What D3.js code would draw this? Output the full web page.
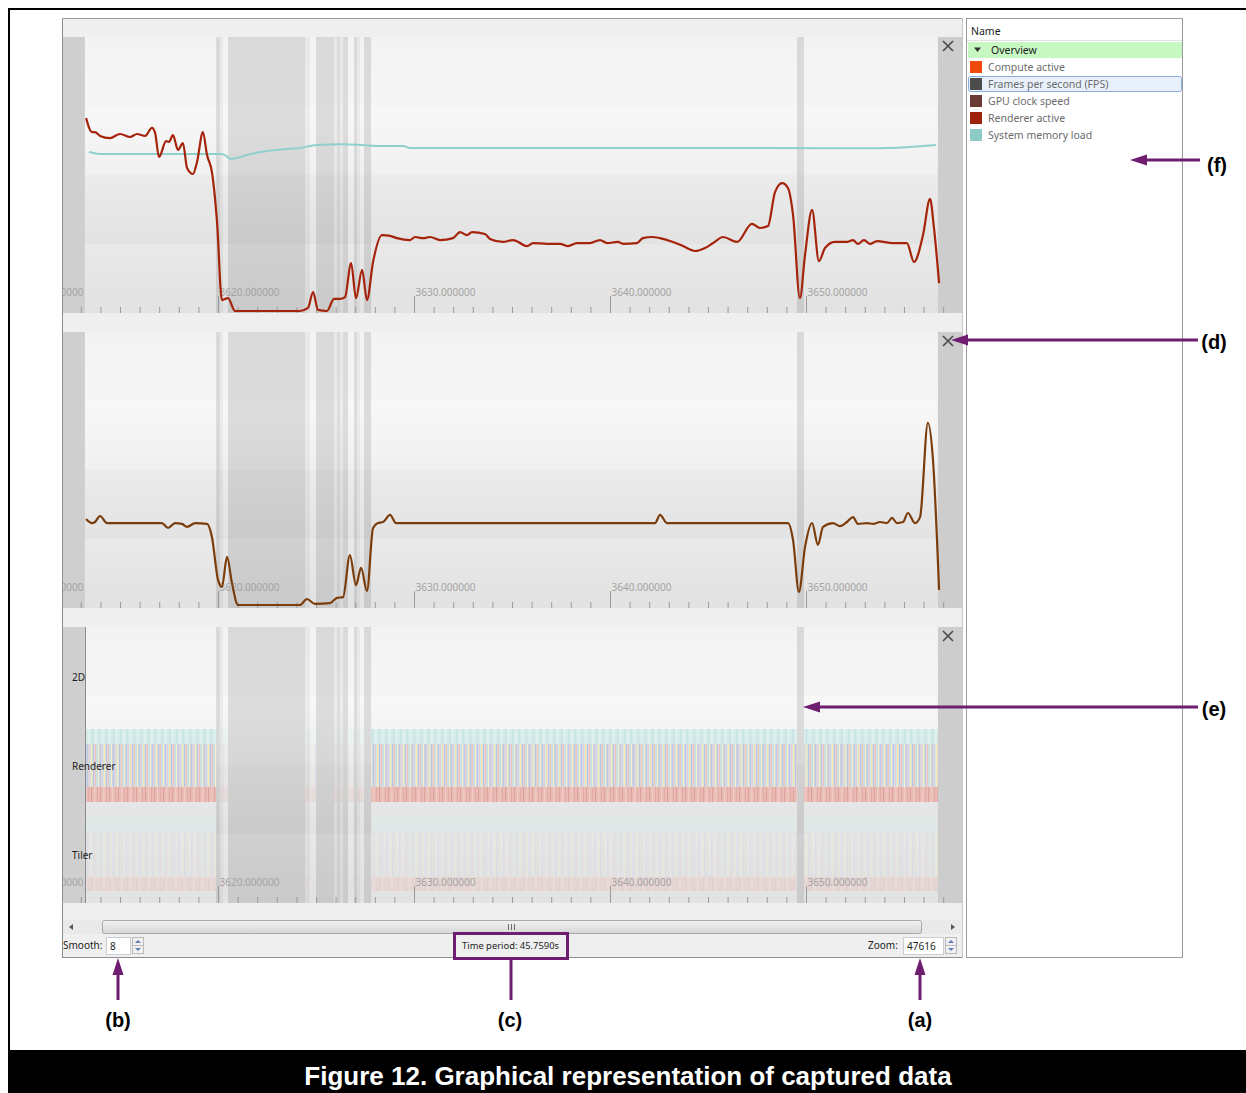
<!DOCTYPE html>
<html>
<head>
<meta charset="utf-8">
<script src="https://cdn.jsdelivr.net/npm/d3@7"></script>
<style>
  html, body { margin: 0; padding: 0; background: #fff; }
  svg { display: block; font-family: "Noto Sans", "Open Sans", sans-serif; }
</style>
</head>
<body>
<svg id="fig" width="1246" height="1093"></svg>
<script>
// ---- captured counters: [time (s), value (%)] ----
const rendererActive = [[3613.27,70.4],[3613.57,65.3],[3613.72,65.3],[3613.98,63.9],[3614.49,63.1],[3615.00,64.6],[3615.51,63.5],[3615.87,64.6],[3616.28,63.9],[3616.63,66.8],[3616.79,65.0],[3616.99,56.2],[3617.35,62.0],[3617.50,61.7],[3617.70,64.2],[3617.96,58.8],[3618.21,61.3],[3618.42,52.2],[3618.72,50.0],[3618.93,54.4],[3619.23,65.3],[3619.44,56.9],[3619.69,50.7],[3619.95,32.5],[3620.20,4.0],[3620.51,4.7],[3620.87,0],[3624.18,0],[3624.59,1.1],[3624.85,6.9],[3625.10,0.4],[3625.56,0],[3625.92,4.4],[3626.22,4.4],[3626.48,5.1],[3626.79,17.5],[3627.04,4.7],[3627.35,15.0],[3627.60,4.0],[3627.91,17.9],[3628.37,27.7],[3628.78,27.4],[3629.13,26.6],[3629.80,25.9],[3630.05,27.0],[3630.46,26.6],[3630.82,27.0],[3631.33,25.9],[3631.99,26.6],[3632.35,28.8],[3632.70,27.7],[3632.96,28.8],[3633.62,28.1],[3633.88,26.3],[3634.54,25.2],[3635.05,25.9],[3635.77,23.7],[3636.07,24.8],[3636.79,24.5],[3637.45,24.5],[3637.86,23.7],[3638.32,24.8],[3638.98,24.8],[3639.49,25.9],[3639.85,24.8],[3640.41,25.2],[3640.66,24.5],[3641.38,24.8],[3641.68,26.6],[3642.14,27.0],[3642.55,26.6],[3643.21,25.2],[3643.72,23.7],[3644.34,21.9],[3644.85,23.0],[3645.26,24.8],[3645.77,27.0],[3646.48,25.2],[3647.24,31.8],[3647.65,30.3],[3648.06,31.0],[3648.42,43.4],[3648.78,46.7],[3649.08,44.9],[3649.34,35.0],[3649.69,4.7],[3649.95,20.4],[3650.31,36.9],[3650.66,18.2],[3650.97,23.0],[3651.48,25.2],[3652.09,25.2],[3652.40,25.9],[3652.65,24.5],[3652.96,25.9],[3653.27,24.5],[3653.62,25.5],[3654.44,24.8],[3655.15,24.8],[3655.51,17.9],[3655.97,27.7],[3656.33,40.9],[3656.53,30.3],[3656.79,10.2]];

const systemMemoryLoad = [[3613.42,58.0],[3613.98,57.3],[3620.10,57.3],[3620.36,56.9],[3620.66,55.5],[3621.48,56.9],[3622.14,58.0],[3623.01,58.8],[3624.18,59.5],[3625.05,60.6],[3626.38,60.9],[3628.27,60.2],[3629.44,60.2],[3629.80,59.5],[3642.55,59.5],[3653.78,59.4],[3655.97,60.2],[3656.63,60.6]];

const gpuClockSpeed = [[3613.27,31.5],[3613.57,30.0],[3613.72,30.4],[3613.98,32.6],[3614.34,30.0],[3615.36,30.0],[3616.43,30.0],[3617.14,30.0],[3617.45,28.2],[3617.81,30.0],[3618.16,29.7],[3618.42,28.6],[3618.83,30.0],[3619.44,29.7],[3619.69,24.9],[3620.00,9.2],[3620.20,6.6],[3620.46,17.6],[3620.71,8.1],[3621.02,0],[3624.18,0],[3624.54,2.2],[3624.95,0.4],[3625.71,0.7],[3626.07,2.6],[3626.38,2.9],[3626.73,18.3],[3627.04,7.3],[3627.30,13.6],[3627.60,5.1],[3627.91,28.2],[3628.16,30.0],[3628.42,30.4],[3628.78,33.0],[3629.08,30.0],[3631.84,30.0],[3635.41,30.0],[3639.49,30.0],[3642.30,30.0],[3642.55,33.0],[3642.91,30.0],[3646.12,30.0],[3649.08,30.0],[3649.34,23.8],[3649.64,4.8],[3649.95,21.2],[3650.31,30.0],[3650.61,22.0],[3650.87,28.6],[3651.38,30.0],[3651.73,28.9],[3652.09,30.4],[3652.40,32.2],[3652.65,29.7],[3653.11,30.0],[3653.42,29.7],[3653.78,30.4],[3654.13,30.0],[3654.39,31.9],[3654.64,30.0],[3654.95,30.4],[3655.20,33.7],[3655.56,30.0],[3655.82,32.2],[3656.22,66.7],[3656.48,53.1],[3656.79,5.5]];

// capture extent and GPU idle periods (s)
const captureRange = [3613.21, 3656.73];
const idleSpans = [[3619.90,3620.10],[3620.51,3624.44],[3625.00,3625.92],[3626.07,3626.22],[3626.38,3626.63],[3626.94,3627.09],[3627.45,3627.81],[3649.54,3649.90]];
const partialIdleSpans = [[3620.10,3620.26],[3624.44,3624.69],[3625.92,3626.07],[3626.22,3626.38],[3627.09,3627.25]];

// timeline lanes
const lanes = ["2D", "Renderer", "Tiler"];

// axis ticks
const minorTicks = d3.range(3613, 3658);
const majorTicks = [3610, 3620, 3630, 3640, 3650];

// counter list
const counterNames = ["Compute active", "Frames per second (FPS)", "GPU clock speed", "Renderer active", "System memory load"];
const counterColors = ["#ee4a0e", "#4c4c4c", "#6c3a35", "#a0220c", "#8ccac6"];

// status bar values
const smoothValue = "8";
const timePeriod = "45.7590s";
const zoomValue = "47616";

// ------------------------------------------------------------------
const svg = d3.select("#fig");
const defs = svg.append("defs");

svg.append("rect").attr("width", 1246).attr("height", 1093).attr("fill", "#fff");

const x = d3.scaleLinear().domain([3612.04, 3657.96]).range([62, 962]);
const plotH = 276;
const panelTops = [37, 332, 627];

// band gradients
const bandStops = [["#f3f3f3", "#f5f5f5"], ["#f8f8f8", "#f0f0f0"], ["#ebebeb", "#e3e3e3"], ["#e9e9e9", "#e2e2e2"]];
bandStops.forEach((s, i) => {
  const g = defs.append("linearGradient").attr("id", "band" + i).attr("x1", 0).attr("x2", 0).attr("y1", 0).attr("y2", 1);
  g.append("stop").attr("offset", 0).attr("stop-color", s[0]);
  g.append("stop").attr("offset", 1).attr("stop-color", s[1]);
});

// stripe textures for timeline lanes
function stripePattern(id, w, bg, lines) {
  const p = defs.append("pattern").attr("id", id).attr("patternUnits", "userSpaceOnUse")
    .attr("width", w).attr("height", 60);
  p.append("rect").attr("width", w).attr("height", 60).attr("fill", bg);
  lines.forEach(l => p.append("rect").attr("x", l[0]).attr("width", l[1]).attr("height", 60).attr("fill", l[2]));
}
stripePattern("stripeMain", 13, "#d3dde6", [[0,1.4,"#f4e8b8"],[2,1,"#b7c4e4"],[3.6,1.4,"#f0c6c2"],[5.6,1,"#c2e1de"],[7,1.2,"#f6eec9"],[8.6,1.4,"#bdc9e6"],[10.6,1,"#ecc9cf"],[12,1,"#cfe6e4"]]);
stripePattern("stripeTeal", 7, "#d5ebea", [[1,1,"#c6e2e1"],[4,1.5,"#e0f1f0"]]);
stripePattern("stripeSalmon", 9, "#e9b9b1", [[1,1,"#dc9f97"],[4,1.5,"#efc7c1"],[7,1,"#e2aaa2"]]);

// app background
svg.append("rect").attr("x", 62).attr("y", 18).attr("width", 900).attr("height", 940).attr("fill", "#efefef");

// active spans = capture range minus idle periods
const activeSpans = [];
let cursor = captureRange[0];
idleSpans.forEach(s => { if (s[0] > cursor) activeSpans.push([cursor, s[0]]); cursor = Math.max(cursor, s[1]); });
if (cursor < captureRange[1]) activeSpans.push([cursor, captureRange[1]]);
// short bursts between idle periods render faintly
const spanOpacity = d => (d[1] - d[0] < 1 ? 0.22 : 1);

const lane = d3.scalePoint().domain(lanes).range([677, 855]);

panelTops.forEach((top, pi) => {
  const bottom = top + plotH;
  const cid = "clip" + pi;
  defs.append("clipPath").attr("id", cid).append("rect")
    .attr("x", 62).attr("y", top).attr("width", 900).attr("height", plotH);
  const g = svg.append("g").attr("clip-path", `url(#${cid})`);

  // horizontal bands
  const bh = plotH / 4;
  d3.range(4).forEach(i => g.append("rect").attr("x", 62).attr("y", top + i * bh)
    .attr("width", 900).attr("height", bh).attr("fill", `url(#band${i})`));

  // timeline lanes
  if (pi === 2) {
    const rows = [
      { lane: "Renderer", d0: -37, d1: -22, fill: "url(#stripeTeal)", op: 1 },
      { lane: "Renderer", d0: -22, d1: 21, fill: "url(#stripeMain)", op: 1 },
      { lane: "Renderer", d0: 21, d1: 36, fill: "url(#stripeSalmon)", op: 0.95 },
      { lane: "Tiler", d0: -38, d1: -22, fill: "#dfe7e7", op: 0.8 },
      { lane: "Tiler", d0: -22, d1: 22, fill: "url(#stripeMain)", op: 0.28 },
      { lane: "Tiler", d0: 22, d1: 36, fill: "url(#stripeSalmon)", op: 0.3 }
    ];
    rows.forEach(r => {
      g.selectAll(null).data(activeSpans).join("rect")
        .attr("x", d => x(d[0])).attr("width", d => x(d[1]) - x(d[0]))
        .attr("y", lane(r.lane) + r.d0).attr("height", r.d1 - r.d0)
        .attr("fill", r.fill).attr("opacity", d => r.op * spanOpacity(d));
    });
  }

  // idle periods
  g.selectAll(null).data(idleSpans).join("rect")
    .attr("x", d => x(d[0])).attr("width", d => x(d[1]) - x(d[0]))
    .attr("y", top).attr("height", plotH).attr("fill", "#000").attr("opacity", 0.105);
  g.selectAll(null).data(partialIdleSpans).join("rect")
    .attr("x", d => x(d[0])).attr("width", d => x(d[1]) - x(d[0]))
    .attr("y", top).attr("height", plotH).attr("fill", "#000").attr("opacity", 0.045);

  // outside the capture
  g.append("rect").attr("x", 62).attr("y", top).attr("width", x(captureRange[0]) - 62).attr("height", plotH).attr("fill", "#cfcfcf");
  g.append("rect").attr("x", x(captureRange[1])).attr("y", top).attr("width", 962 - x(captureRange[1])).attr("height", plotH).attr("fill", "#cdcdcd");

  // time axis
  const minor = g.append("g").attr("transform", `translate(0,${bottom})`)
    .call(d3.axisTop(x).tickValues(minorTicks).tickSize(6).tickFormat(""));
  const major = g.append("g").attr("transform", `translate(0,${bottom})`)
    .call(d3.axisTop(x).tickValues(majorTicks).tickSize(17).tickPadding(0).tickFormat(d3.format(".6f")));
  [minor, major].forEach(a => {
    a.select(".domain").remove();
    a.selectAll("line").attr("stroke", "#9a9a9a");
  });
  major.selectAll("text").attr("text-anchor", "start").attr("x", 1).attr("dy", "0em")
    .attr("fill", "#a3a3a3").style("font-size", "10px").style("font-family", "'Noto Sans', sans-serif");

  // series
  const line = (ys) => d3.line().x(d => x(d[0])).y(d => ys(d[1])).curve(d3.curveMonotoneX);
  if (pi === 0) {
    const y1 = d3.scaleLinear().domain([0, 100]).range([311, 37]);
    g.append("path").datum(systemMemoryLoad).attr("d", line(y1)).attr("fill", "none")
      .attr("stroke", "#8fd0cc").attr("stroke-width", 2);
    g.append("path").datum(rendererActive).attr("d", line(y1)).attr("fill", "none")
      .attr("stroke", "#a5230b").attr("stroke-width", 2.2).attr("stroke-linejoin", "round");
  }
  if (pi === 1) {
    const y2 = d3.scaleLinear().domain([0, 100]).range([605, 332]);
    g.append("path").datum(gpuClockSpeed).attr("d", line(y2)).attr("fill", "none")
      .attr("stroke", "#7b3d0c").attr("stroke-width", 2.2).attr("stroke-linejoin", "round");
  }
  if (pi === 2) {
    g.append("line").attr("x1", 85.5).attr("x2", 85.5).attr("y1", top).attr("y2", bottom).attr("stroke", "#8a8a8a");
    svg.selectAll(null).data(lanes).join("text")
      .attr("x", 72).attr("y", d => lane(d) + 4)
      .attr("fill", "#1e1e1e").style("font-size", "10px").text(d => d);
  }

  // close button
  const cx = 948, cy = top + 9;
  svg.append("path").attr("d", `M${cx - 5},${cy - 5}L${cx + 5},${cy + 5}M${cx + 5},${cy - 5}L${cx - 5},${cy + 5}`)
    .attr("stroke", "#4a4a4a").attr("stroke-width", 1.6);
});

// window frame lines
svg.append("line").attr("x1", 62.5).attr("x2", 62.5).attr("y1", 18).attr("y2", 958).attr("stroke", "#8e8e8e");
svg.append("line").attr("x1", 62).attr("x2", 962).attr("y1", 18.5).attr("y2", 18.5).attr("stroke", "#a0a0a0");
svg.append("line").attr("x1", 62).attr("x2", 962).attr("y1", 957.5).attr("y2", 957.5).attr("stroke", "#8e8e8e");
svg.append("line").attr("x1", 962.5).attr("x2", 962.5).attr("y1", 18).attr("y2", 958).attr("stroke", "#c8c8c8");

// scrollbar
const sb = svg.append("g");
sb.append("rect").attr("x", 63).attr("y", 920).attr("width", 898).attr("height", 14).attr("fill", "#e9e9e9");
const tg = defs.append("linearGradient").attr("id", "thumb").attr("x1", 0).attr("x2", 0).attr("y1", 0).attr("y2", 1);
tg.append("stop").attr("offset", 0).attr("stop-color", "#f3f3f3");
tg.append("stop").attr("offset", 1).attr("stop-color", "#d6d6d6");
sb.append("rect").attr("x", 102.5).attr("y", 920.5).attr("width", 819).attr("height", 13).attr("rx", 2)
  .attr("fill", "url(#thumb)").attr("stroke", "#a9a9a9");
[508.5, 511.5, 514.5].forEach(gx => sb.append("line").attr("x1", gx).attr("x2", gx).attr("y1", 924).attr("y2", 930).attr("stroke", "#6d6d6d"));
sb.append("path").attr("d", "M69,927L73,924L73,930Z").attr("fill", "#555");
sb.append("path").attr("d", "M955,927L951,924L951,930Z").attr("fill", "#555");

// status row
const st = svg.append("g").style("font-size", "10px").attr("fill", "#1e1e1e");
st.append("text").attr("x", 63).attr("y", 949).text("Smooth:");
function spinBox(x0, w, value) {
  st.append("rect").attr("x", x0 + 0.5).attr("y", 937.5).attr("width", w).attr("height", 17).attr("fill", "#fff").attr("stroke", "#c9ccd3");
  st.append("text").attr("x", x0 + 4).attr("y", 950).text(value);
  const sx = x0 + w + 2;
  st.append("rect").attr("x", sx + 0.5).attr("y", 937.5).attr("width", 11).attr("height", 16).attr("fill", "#f1f1f1").attr("stroke", "#b9b9b9");
  st.append("line").attr("x1", sx).attr("x2", sx + 12).attr("y1", 945.5).attr("y2", 945.5).attr("stroke", "#b9b9b9");
  st.append("path").attr("d", `M${sx + 3},${943}L${sx + 6},${940}L${sx + 9},${943}Z`).attr("fill", "#5b7fb4");
  st.append("path").attr("d", `M${sx + 3},${948}L${sx + 6},${951}L${sx + 9},${948}Z`).attr("fill", "#5b7fb4");
}
spinBox(106, 24, smoothValue);
st.append("text").attr("x", 462).attr("y", 949).style("font-size", "9.4px").text("Time period: " + timePeriod);
st.append("text").attr("x", 868).attr("y", 949).text("Zoom:");
spinBox(903, 40, zoomValue);

// counter list panel
const lg = svg.append("g").style("font-size", "10.5px");
lg.append("rect").attr("x", 966.5).attr("y", 18.5).attr("width", 216).attr("height", 939).attr("fill", "#fff").attr("stroke", "#9a9a9a");
lg.append("text").attr("x", 971).attr("y", 35).attr("fill", "#1e1e1e").text("Name");
lg.append("line").attr("x1", 967).attr("x2", 1182).attr("y1", 40.5).attr("y2", 40.5).attr("stroke", "#e2e2e2");
lg.append("rect").attr("x", 968).attr("y", 42).attr("width", 214).attr("height", 16).attr("fill", "#c8f8c2");
lg.append("path").attr("d", "M974,47.5L981,47.5L977.5,52Z").attr("fill", "#333");
lg.append("text").attr("x", 991).attr("y", 54).attr("fill", "#1e1e1e").text("Overview");
lg.append("rect").attr("x", 968.5).attr("y", 76.5).attr("width", 213).attr("height", 15).attr("rx", 2)
  .attr("fill", "#e8f1fb").attr("stroke", "#86addb");
const rows = lg.selectAll(null).data(counterNames).join("g")
  .attr("transform", (d, i) => `translate(0,${67 + 17 * i})`);
rows.append("rect").attr("x", 970).attr("y", -6).attr("width", 12).attr("height", 12).attr("fill", (d, i) => counterColors[i]);
rows.append("text").attr("x", 988).attr("y", 4).attr("fill", "#6b6b6b").text(d => d);

// callouts
const purple = "#6e1d70";
const ann = svg.append("g");
function hArrow(x0, tip, y) {
  ann.append("line").attr("x1", x0).attr("x2", tip + 14).attr("y1", y).attr("y2", y).attr("stroke", purple).attr("stroke-width", 3);
  ann.append("path").attr("d", `M${tip},${y}L${tip + 17},${y - 5.5}L${tip + 17},${y + 5.5}Z`).attr("fill", purple);
}
function vArrow(xc, y0, tip) {
  ann.append("line").attr("x1", xc).attr("x2", xc).attr("y1", y0).attr("y2", tip + 14).attr("stroke", purple).attr("stroke-width", 3);
  ann.append("path").attr("d", `M${xc},${tip}L${xc - 5.5},${tip + 17}L${xc + 5.5},${tip + 17}Z`).attr("fill", purple);
}
hArrow(1200, 1130, 160);
hArrow(1198, 951, 340);
hArrow(1198, 803, 707);
vArrow(118, 1000, 958);
vArrow(920, 1000, 958);
ann.append("rect").attr("x", 454.5).attr("y", 933.5).attr("width", 113).attr("height", 25).attr("fill", "none").attr("stroke", purple).attr("stroke-width", 3);
ann.append("line").attr("x1", 511).attr("x2", 511).attr("y1", 958).attr("y2", 1000).attr("stroke", purple).attr("stroke-width", 3);

const lab = svg.append("g").style("font-family", "'Liberation Sans', Arial, sans-serif").style("font-weight", "bold").style("font-size", "20px").attr("fill", "#000");
[["(f)", 1217, 172], ["(d)", 1214, 349], ["(e)", 1214, 716], ["(b)", 118, 1027], ["(c)", 510, 1027], ["(a)", 920, 1027]]
  .forEach(d => lab.append("text").attr("x", d[1]).attr("y", d[2]).attr("text-anchor", "middle").text(d[0]));

// figure frame and caption
svg.append("line").attr("x1", 8).attr("x2", 1246).attr("y1", 9).attr("y2", 9).attr("stroke", "#000").attr("stroke-width", 2);
svg.append("line").attr("x1", 9).attr("x2", 9).attr("y1", 8).attr("y2", 1093).attr("stroke", "#000").attr("stroke-width", 2);
svg.append("rect").attr("x", 8).attr("y", 1050).attr("width", 1238).attr("height", 43).attr("fill", "#000");
svg.append("text").attr("x", 628).attr("y", 1085).attr("text-anchor", "middle")
  .style("font-family", "'Liberation Sans', Arial, sans-serif").style("font-weight", "bold").style("font-size", "26px")
  .attr("fill", "#fff").text("Figure 12. Graphical representation of captured data");
</script>
</body>
</html>
